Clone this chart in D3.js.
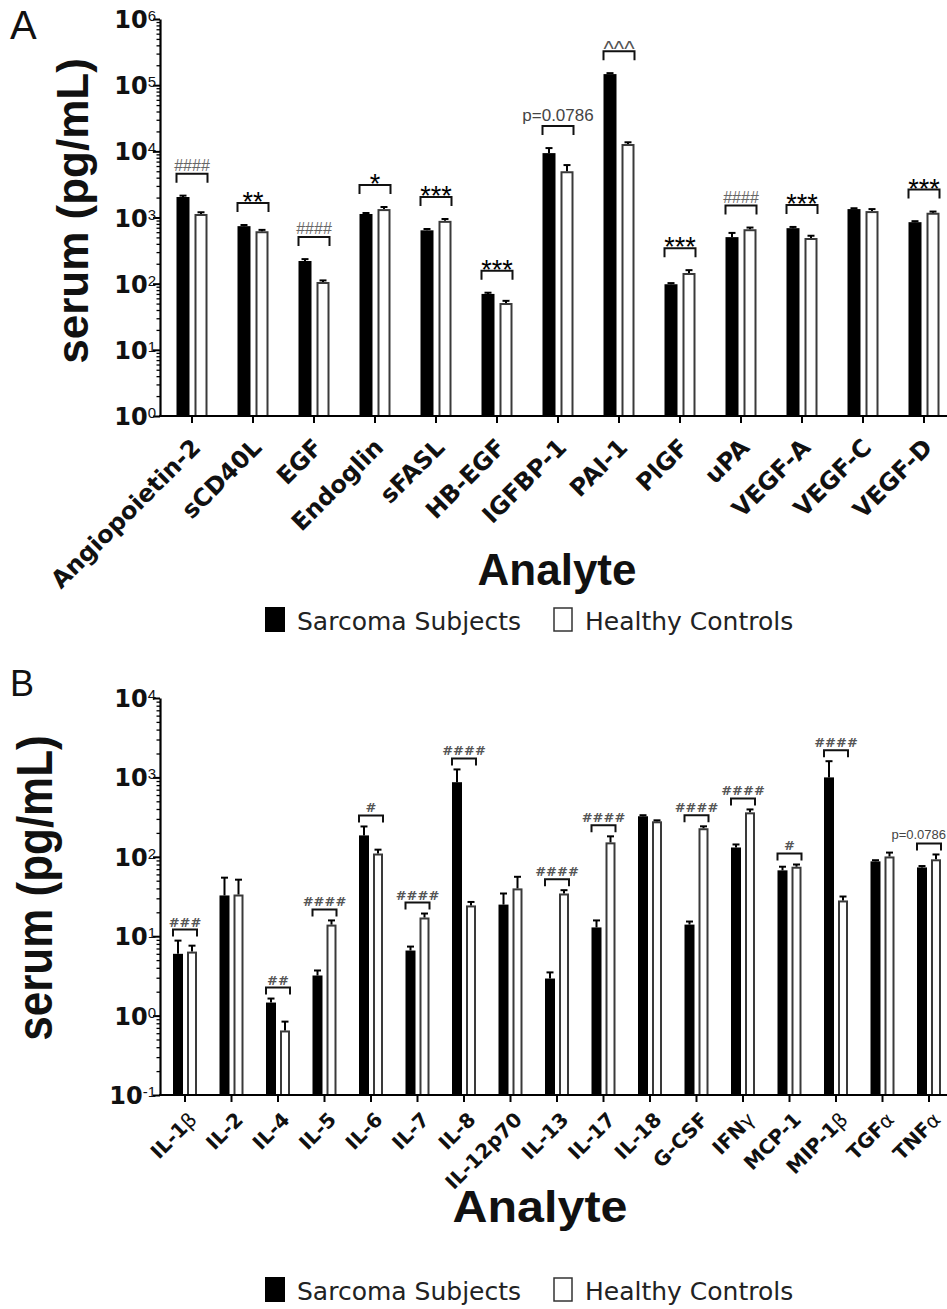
<!DOCTYPE html>
<html><head><meta charset="utf-8">
<script src="https://cdn.jsdelivr.net/npm/d3@7"></script>
<style>body{margin:0;background:#fff}svg{display:block}</style>
</head><body>
<script>
// ---------- DATA ----------
const catsA = ["Angiopoietin-2","sCD40L","EGF","Endoglin","sFASL","HB-EGF","IGFBP-1","PAI-1","PlGF","uPA","VEGF-A","VEGF-C","VEGF-D"];
const sarcomaA    = [2040, 740, 220, 1130, 640, 70, 9400, 147000, 98, 505, 690, 1340, 850];
const sarcomaAErr = [100, 30, 15, 40, 30, 3, 1800, 5000, 4, 80, 30, 40, 30];
const controlA    = [1130, 620, 106, 1340, 890, 51, 5000, 12900, 145, 665, 490, 1250, 1180];
const controlAErr = [70, 30, 6, 100, 60, 4, 1200, 800, 15, 40, 40, 90, 50];
const sigA = ["####","**","####","*","***","***","p=0.0786","^^^","***","####","***","","***"];
const yTicksA = [1, 10, 100, 1000, 10000, 100000, 1000000];

const catsB = ["IL-1β","IL-2","IL-4","IL-5","IL-6","IL-7","IL-8","IL-12p70","IL-13","IL-17","IL-18","G-CSF","IFNγ","MCP-1","MIP-1β","TGFα","TNFα"];
const sarcomaB    = [6.0, 32.6, 1.46, 3.2, 186, 6.6, 870, 25, 2.93, 12.9, 324, 14, 131, 67.5, 1000, 87.6, 73.5];
const sarcomaBErr = [2.8, 22, 0.18, 0.5, 55, 0.8, 390, 9.5, 0.57, 2.9, 10, 1.3, 12, 7.5, 600, 3, 3];
const controlB    = [6.4, 33.5, 0.65, 14, 110, 17.2, 24.4, 40, 34.5, 152, 280, 229, 363, 75, 28.2, 101, 93];
const controlBErr = [1.2, 18, 0.19, 1.8, 13, 2.1, 2.6, 16, 3.5, 29, 8, 13, 32, 5, 3.4, 12, 14];
const sigB = ["###","","##","####","#","####","####","","####","####","","####","####","#","####","","p=0.0786"];
const yTicksB = [0.1, 1, 10, 100, 1000, 10000];

const seriesNames = ["Sarcoma Subjects","Healthy Controls"];
const axisTitleX = "Analyte";
const axisTitleY = "serum (pg/mL)";

// ---------- DRAW ----------
const W = 947, H = 1309;
const svg = d3.select("body").append("svg").attr("width", W).attr("height", H)
  .style("background", "#fff");

const SANS = "'Liberation Sans', Arial, sans-serif";
const DJ = "'DejaVu Sans', sans-serif";
const greek = /[α-ω]/;

function drawPanel(o) {
  const g = svg.append("g");
  const x = d3.scaleBand().domain(o.cats).range([o.x0, o.x0 + o.step * o.cats.length]);
  const y = d3.scaleLog().domain(o.yDomain).range([o.yBottom, o.yTop]);
  const cx = c => x(c) + x.bandwidth() / 2;
  const data = o.cats.map((c, i) => ({cat: c, s: o.s[i], se: o.sErr[i], h: o.c[i], he: o.cErr[i], sig: o.sig[i]}));

  // bars
  const gb = g.append("g");
  gb.selectAll(".bs").data(data).join("rect")
    .attr("x", d => cx(d.cat) - o.off - o.bw / 2).attr("width", o.bw)
    .attr("y", d => y(d.s)).attr("height", d => o.yBottom - y(d.s)).attr("fill", "#000");
  gb.selectAll(".bh").data(data).join("rect")
    .attr("x", d => cx(d.cat) + o.off - o.bw / 2 + 1).attr("width", o.bw - 2)
    .attr("y", d => y(d.h) + 1).attr("height", d => o.yBottom - y(d.h) - 1)
    .attr("fill", "#fff").attr("stroke", "#3a3a3a").attr("stroke-width", 2);

  // error bars (upper only)
  const errs = [];
  data.forEach(d => {
    errs.push({xc: cx(d.cat) - o.off, y0: y(d.s), y1: y(d.s + d.se)});
    errs.push({xc: cx(d.cat) + o.off, y0: y(d.h), y1: y(d.h + d.he)});
  });
  const ge = g.append("g").attr("stroke", "#000").attr("stroke-width", 2);
  ge.selectAll(".ev").data(errs).join("line")
    .attr("x1", d => d.xc).attr("x2", d => d.xc).attr("y1", d => d.y0).attr("y2", d => d.y1);
  ge.selectAll(".ec").data(errs).join("line")
    .attr("x1", d => d.xc - 3.5).attr("x2", d => d.xc + 3.5).attr("y1", d => d.y1).attr("y2", d => d.y1);

  // x axis
  const xa = g.append("g").attr("transform", `translate(0,${o.yBottom})`)
    .call(d3.axisBottom(x).tickSize(7).tickSizeOuter(0).tickFormat(""));
  xa.select(".domain").remove();
  xa.selectAll("line").attr("stroke", "#000").attr("stroke-width", 2);
  g.append("line").attr("x1", o.axisX - 1).attr("x2", W).attr("y1", o.yBottom).attr("y2", o.yBottom)
    .attr("stroke", "#000").attr("stroke-width", 2.2);

  // y axis
  const ya = g.append("g").attr("transform", `translate(${o.axisX},0)`)
    .call(d3.axisLeft(y).tickValues(o.yTicks).tickSize(7).tickSizeOuter(0).tickFormat(""));
  ya.select(".domain").attr("stroke", "#000").attr("stroke-width", 2.2);
  ya.selectAll("line").attr("stroke", "#000").attr("stroke-width", 2);
  const minor = [];
  for (let k = 0; k < o.yTicks.length - 1; k++) for (let m = 2; m <= 9; m++) minor.push(o.yTicks[k] * m);
  const ym = g.append("g").attr("transform", `translate(${o.axisX},0)`)
    .call(d3.axisLeft(y).tickValues(minor).tickSize(3.5).tickFormat(""));
  ym.select(".domain").remove();
  ym.selectAll("line").attr("stroke", "#000").attr("stroke-width", 1.3);

  // y tick labels
  o.yTicks.forEach(v => {
    const t = g.append("text").attr("x", o.axisX - 4).attr("y", y(v) + 9)
      .attr("text-anchor", "end").attr("fill", "#111");
    t.append("tspan").attr("font-family", DJ).attr("font-weight", "bold").attr("font-size", 24).text("10");
    t.append("tspan").attr("font-family", SANS).attr("font-size", 15).attr("dy", -7)
      .text(String(Math.round(Math.log10(v))));
  });

  // x tick labels
  data.forEach(d => {
    const t = g.append("text")
      .attr("transform", `translate(${cx(d.cat) + o.lblDx},${o.yBottom + o.lblDy}) rotate(-45)`)
      .attr("text-anchor", "end").attr("dy", "0.35em")
      .attr("font-family", DJ).attr("font-weight", "bold").attr("font-size", o.lblSize).attr("fill", "#111");
    let run = "", isG = null;
    const flush = () => { if (run) t.append("tspan").attr("font-weight", isG ? "normal" : "bold").text(run); run = ""; };
    for (const ch of d.cat) {
      const gk = greek.test(ch);
      if (isG !== null && gk !== isG) flush();
      isG = gk; run += ch;
    }
    flush();
  });

  // significance brackets
  data.forEach(d => {
    if (!d.sig) return;
    const top = Math.min(y(d.s + d.se), y(d.h + d.he));
    const by = top - o.bGap;
    const x1 = cx(d.cat) - o.off - o.bw / 2, x2 = cx(d.cat) + o.off + o.bw / 2;
    g.append("path").attr("d", `M${x1},${by + o.drop}V${by}H${x2}V${by + o.drop}`)
      .attr("fill", "none").attr("stroke", "#111").attr("stroke-width", 2);
    const st = o.sigStyle(d.sig);
    const t = g.append("text").attr("x", (x1 + x2) / 2).attr("y", by + st.dy).attr("text-anchor", "middle")
      .attr("font-family", st.family).attr("font-size", st.size).attr("font-weight", st.weight || "normal")
      .attr("fill", st.fill).text(d.sig);
    const bb = t.node().getBBox();
    if (bb.x + bb.width > W - 1) t.attr("text-anchor", "end").attr("x", W - 1);
  });

  // axis titles
  g.append("text").attr("transform", `translate(${o.yLabX},${o.yLabY}) scale(${o.yLabSx},1) rotate(-90)`)
    .attr("text-anchor", "middle").attr("font-family", SANS).attr("font-weight", "bold")
    .attr("font-size", 44).attr("fill", "#111").text(axisTitleY);
  g.append("text").attr("transform", `translate(${o.xLabX},${o.xLabY}) scale(${o.xLabSx},1)`)
    .attr("text-anchor", "middle").attr("font-family", SANS).attr("font-weight", "bold")
    .attr("font-size", 44).attr("fill", "#111").text(axisTitleX);

  // legend
  const lg = g.append("g");
  lg.append("rect").attr("x", 265).attr("y", o.legY - 23).attr("width", 20).attr("height", 25).attr("fill", "#000");
  lg.append("text").attr("x", 297).attr("y", o.legY).attr("font-family", DJ).attr("font-size", 25).attr("fill", "#222").text(seriesNames[0]);
  lg.append("rect").attr("x", 554).attr("y", o.legY - 22).attr("width", 18).attr("height", 23)
    .attr("fill", "#fff").attr("stroke", "#333").attr("stroke-width", 1.5);
  lg.append("text").attr("x", 585).attr("y", o.legY).attr("font-family", DJ).attr("font-size", 25).attr("fill", "#222").text(seriesNames[1]);

  // panel letter
  g.append("text").attr("x", 10).attr("y", o.letterY).attr("font-family", SANS).attr("font-size", o.letterSize)
    .attr("fill", "#111").text(o.letter);
}

drawPanel({
  cats: catsA, s: sarcomaA, sErr: sarcomaAErr, c: controlA, cErr: controlAErr, sig: sigA,
  yDomain: [1, 1e6], yTicks: yTicksA, yTop: 19, yBottom: 416, axisX: 160,
  x0: 161.5, step: 61, bw: 13, off: 9,
  lblDx: 4, lblDy: 27, lblSize: 24,
  bGap: 22, drop: 9,
  sigStyle: s => s[0] === "*" ? {family: SANS, size: 27, fill: "#000", dy: 8}
    : s[0] === "#" ? {family: SANS, size: 16, fill: "#666", dy: -3}
    : s[0] === "^" ? {family: SANS, size: 22, fill: "#555", dy: 5}
    : {family: SANS, size: 17, fill: "#444", dy: -5},
  yLabX: 88, yLabY: 211, yLabSx: 1, xLabX: 557, xLabY: 585, xLabSx: 1,
  legY: 630, letter: "A", letterY: 39, letterSize: 40
});

drawPanel({
  cats: catsB, s: sarcomaB, sErr: sarcomaBErr, c: controlB, cErr: controlBErr, sig: sigB,
  yDomain: [0.1, 1e4], yTicks: yTicksB, yTop: 698, yBottom: 1095, axisX: 160,
  x0: 161.75, step: 46.5, bw: 10, off: 7,
  lblDx: 8, lblDy: 21, lblSize: 20,
  bGap: 11, drop: 7,
  sigStyle: s => s[0] === "#" ? {family: DJ, size: 13, weight: "bold", fill: "#555", dy: -3}
    : {family: SANS, size: 13, fill: "#444", dy: -4},
  yLabX: 52, yLabY: 888, yLabSx: 1.15, xLabX: 540, xLabY: 1222, xLabSx: 1.1,
  legY: 1300, letter: "B", letterY: 696, letterSize: 36
});
</script>
</body></html>
